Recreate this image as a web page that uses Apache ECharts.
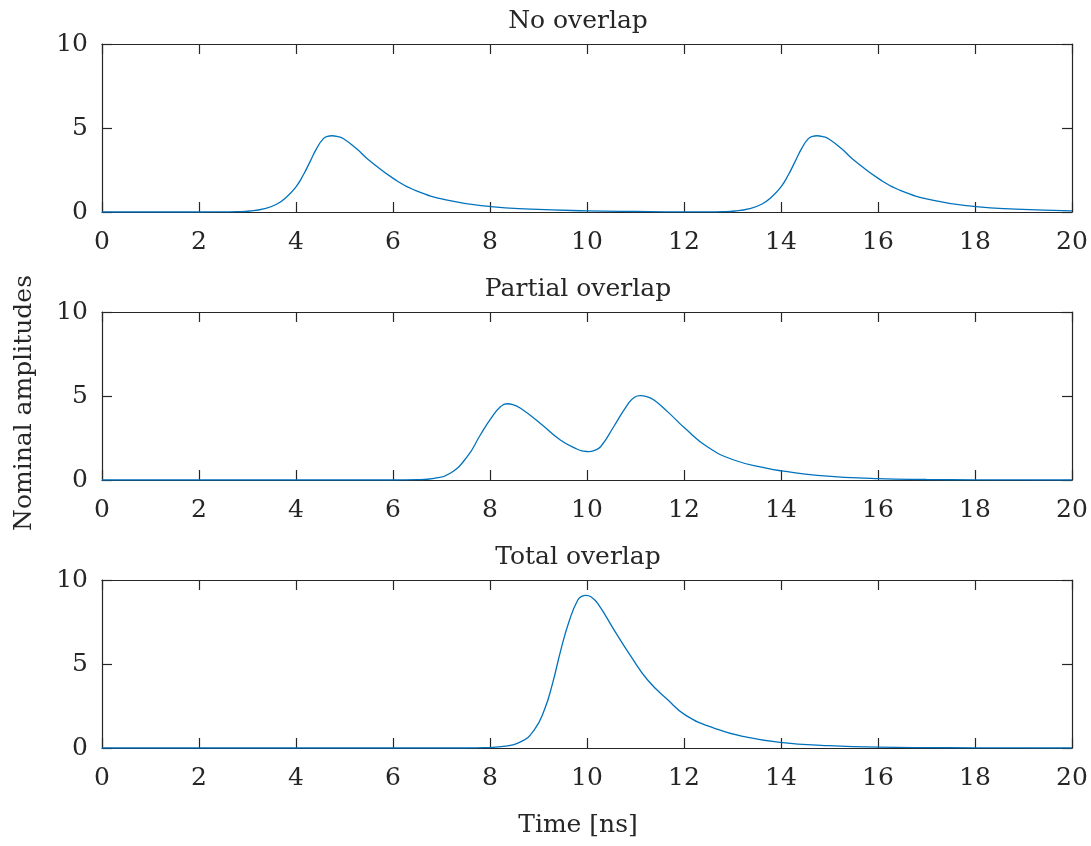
<!DOCTYPE html>
<html><head><meta charset="utf-8">
<script src="https://cdn.jsdelivr.net/npm/echarts@6/dist/echarts.min.js"></script>
<style>html,body{margin:0;padding:0;background:#fff}#c{width:1091px;height:846px}</style>
</head><body><div id="c"></div>
<script>
const titles = ['No overlap', 'Partial overlap', 'Total overlap'];
const xLabel = 'Time [ns]';
const yLabel = 'Nominal amplitudes';

const noOverlap = [[0,0],[1,0],[2,0],[2.5,0.01],[2.8,0.02],[3.05,0.06],[3.33,0.19],[3.6,0.46],[3.81,0.91],[4.0,1.5],[4.15,2.2],[4.29,3.0],[4.43,3.8],[4.56,4.35],[4.65,4.5],[4.74,4.54],[4.86,4.49],[4.98,4.36],[5.25,3.76],[5.5,3.1],[6.02,1.97],[6.44,1.31],[7.12,0.71],[8.02,0.32],[8.84,0.17],[10,0.07],[11,0.03],[12,0.01],[12.5,0.01],[12.8,0.02],[13.05,0.06],[13.33,0.19],[13.6,0.46],[13.81,0.91],[14.0,1.5],[14.15,2.2],[14.29,3.0],[14.43,3.8],[14.56,4.35],[14.65,4.5],[14.74,4.54],[14.86,4.49],[14.98,4.36],[15.25,3.76],[15.5,3.1],[16.02,1.97],[16.44,1.31],[17.12,0.71],[18.02,0.32],[18.84,0.17],[20,0.07]];

const partialOverlap = [[0,0],[2,0],[4,0],[6,0],[6.5,0.02],[6.85,0.1],[7.18,0.4],[7.53,1.39],[7.8,2.68],[8.02,3.67],[8.22,4.37],[8.35,4.54],[8.47,4.49],[8.63,4.27],[9.04,3.37],[9.45,2.38],[9.8,1.83],[9.93,1.72],[10.04,1.69],[10.15,1.76],[10.28,1.98],[10.55,3.17],[10.83,4.46],[10.98,4.93],[11.1,5.02],[11.23,4.96],[11.38,4.76],[11.66,4.07],[12.02,3.08],[12.48,1.98],[13.03,1.19],[13.72,0.69],[14.02,0.54],[14.75,0.28],[16,0.08],[17,0.03],[18,0.01],[20,0]];

const totalOverlap = [[0,0],[2,0],[4,0],[6,0],[7.5,0],[7.9,0.02],[8.23,0.08],[8.64,0.38],[8.91,1.07],[9.12,2.26],[9.29,3.85],[9.46,5.83],[9.64,7.62],[9.81,8.81],[9.9,9.04],[9.98,9.09],[10.08,9.0],[10.22,8.61],[10.56,7.02],[10.91,5.44],[11.25,4.05],[11.67,2.86],[12.03,1.96],[12.63,1.17],[13.32,0.63],[14.04,0.32],[14.83,0.16],[16,0.05],[18,0.01],[20,0]];

const seriesData = [noOverlap, partialOverlap, totalOverlap];

const FONT = 'DejaVu Serif';
const FS = 25;
const AX = '#262626';
const gridTops = [44, 312, 580];
const gridH = 168;
const gridLeft = 102, gridRight = 19;

const grids = [], xAxes = [], yAxes = [], series = [], graphics = [];
const axisLine = { show: true, onZero: false, lineStyle: { color: AX, width: 1.2 } };
const tick = { show: true, inside: true, length: 10, lineStyle: { color: AX, width: 1.2 } };
gridTops.forEach((top, i) => {
  grids.push({ left: gridLeft, right: gridRight, top: top, height: gridH, containLabel: false });
  xAxes.push({ type: 'value', gridIndex: i, position: 'bottom', min: 0, max: 20, interval: 2,
    axisLine, axisTick: tick, splitLine: { show: false },
    axisLabel: { fontFamily: FONT, fontSize: FS, color: AX, margin: 18 } });
  xAxes.push({ type: 'value', gridIndex: i, position: 'top', min: 0, max: 20, interval: 2,
    axisLine, axisTick: tick, splitLine: { show: false }, axisLabel: { show: false } });
  yAxes.push({ type: 'value', gridIndex: i, position: 'left', min: 0, max: 10, interval: 5,
    axisLine, axisTick: tick, splitLine: { show: false },
    axisLabel: { fontFamily: FONT, fontSize: FS, color: AX, margin: 14 } });
  yAxes.push({ type: 'value', gridIndex: i, position: 'right', min: 0, max: 10, interval: 5,
    axisLine, axisTick: tick, splitLine: { show: false }, axisLabel: { show: false } });
  series.push({ type: 'line', xAxisIndex: 2 * i, yAxisIndex: 2 * i, data: seriesData[i],
    showSymbol: false, smooth: 0.5, clip: true,
    lineStyle: { color: '#0072BD', width: 1.3 }, silent: true, animation: false });
  graphics.push({ type: 'text', x: 578, y: top - 23,
    style: { text: titles[i], font: FS + 'px "' + FONT + '"', fill: AX, textAlign: 'center', textVerticalAlign: 'middle' } });
});
graphics.push({ type: 'text', x: 578, y: 825,
  style: { text: xLabel, font: FS + 'px "' + FONT + '"', fill: AX, textAlign: 'center', textVerticalAlign: 'middle' } });
graphics.push({ type: 'text', x: 24, y: 403, rotation: Math.PI / 2,
  style: { text: yLabel, font: FS + 'px "' + FONT + '"', fill: AX, textAlign: 'center', textVerticalAlign: 'middle' } });

const chart = echarts.init(document.getElementById('c'), null, { renderer: 'canvas' });
chart.setOption({
  animation: false,
  backgroundColor: '#fff',
  grid: grids, xAxis: xAxes, yAxis: yAxes, series: series, graphic: graphics
});
</script></body></html>
